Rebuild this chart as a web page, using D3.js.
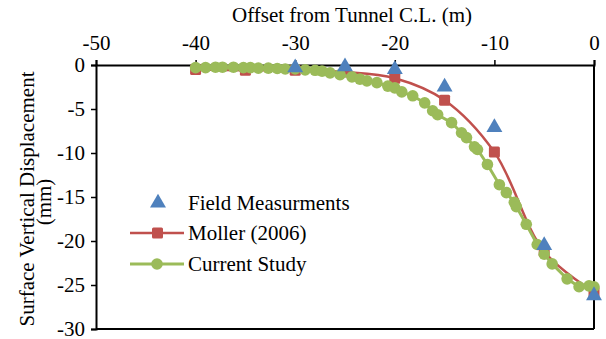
<!DOCTYPE html>
<html>
<head>
<meta charset="utf-8">
<script src="https://cdn.jsdelivr.net/npm/d3@7"></script>
<style>
  html, body { margin: 0; padding: 0; background: #fff; }
  svg { display: block; font-family: "Liberation Serif", "Times New Roman", serif; }
</style>
</head>
<body>
<div id="chart"></div>
<script>
// Field measurements
var fieldX = [-30, -25, -20, -15, -10, -5, 0];
var fieldY = [-0.3, -0.2, -0.5, -2.5, -7.1, -20.5, -26.2];

// Moller (2006)
var mollerX = [-40, -35, -30, -25, -20, -15, -10, -5, 0];
var mollerY = [-0.5, -0.6, -0.6, -0.8, -1.5, -4.0, -9.9, -21.2, -25.8];

// Current study
var currentX = [-40, -39, -38, -37.3, -36.2, -35.2, -34.5, -33.7, -32.7, -31.8, -31, -30, -29, -28, -27.3,
  -26.5, -25.5, -24.3, -23.5, -22.8, -21.8, -20.7, -20, -19.3, -18.2, -17, -16.2, -15.7, -14.3, -13.3,
  -12.8, -12, -11.7, -10.7, -9.5, -8.8, -8, -7.8, -6.8, -5.7, -5, -4.2, -2.7, -1.5, -0.5, 0];
var currentY = [-0.3, -0.3, -0.25, -0.25, -0.25, -0.3, -0.3, -0.35, -0.35, -0.4, -0.45, -0.45, -0.55, -0.6, -0.7,
  -0.9, -1.1, -1.35, -1.6, -1.8, -2.0, -2.4, -2.6, -3.05, -3.5, -4.3, -5.2, -5.65, -6.55, -7.7,
  -8.25, -9.3, -9.6, -11.3, -13.6, -14.5, -15.6, -16.1, -18.1, -20.4, -21.5, -22.6, -24.3, -25.2, -25.1, -25.2];

var xTicks = [-50, -40, -30, -20, -10, 0];
var yTicks = [0, -5, -10, -15, -20, -25, -30];

var W = 606, H = 339;
var FS = 21;
var blue = '#4F81BD', red = '#C0504D', green = '#9BBB59';

var svg = d3.select('#chart').append('svg')
  .attr('width', W).attr('height', H);

var x = d3.scaleLinear().domain([-50, 0]).range([96, 594]);
var y = d3.scaleLinear().domain([0, -30]).range([65, 329]);

function zip(xs, ys) { return xs.map(function (v, i) { return [v, ys[i]]; }); }
function fmt(d) { return String(d); } // plain hyphen like the original

// Plot frame (right and bottom)
svg.append('line').attr('x1', x(0)).attr('x2', x(0)).attr('y1', y(0)).attr('y2', y(-30))
  .attr('stroke', '#000').attr('stroke-width', 2);
svg.append('line').attr('x1', x(-50)).attr('x2', x(0)).attr('y1', y(-30)).attr('y2', y(-30))
  .attr('stroke', '#000').attr('stroke-width', 2);

// Top axis
var xAxis = svg.append('g').attr('transform', 'translate(0,' + y(0) + ')')
  .call(d3.axisTop(x).tickValues(xTicks).tickSize(5).tickPadding(10).tickFormat(fmt));
// Left axis
var yAxis = svg.append('g').attr('transform', 'translate(' + x(-50) + ',0)')
  .call(d3.axisLeft(y).tickValues(yTicks).tickSize(5).tickPadding(6).tickFormat(fmt));

[xAxis, yAxis].forEach(function (a) {
  a.select('.domain').attr('stroke', '#000').attr('stroke-width', 2);
  a.selectAll('.tick line').attr('stroke', '#000').attr('stroke-width', 1.5);
  a.selectAll('text').attr('font-family', '"Liberation Serif", serif')
    .attr('font-size', FS).attr('fill', '#000');
});
yAxis.selectAll('text').attr('dy', '0.32em');

// Axis titles
svg.append('text').attr('x', 352).attr('y', 22).attr('text-anchor', 'middle')
  .attr('font-size', FS).text('Offset from Tunnel C.L. (m)');
svg.append('rect').attr('x', 39).attr('y', 180).attr('width', 17).attr('height', 44).attr('fill', '#fff');
svg.append('text').attr('transform', 'translate(34,199) rotate(-90)').attr('text-anchor', 'middle')
  .attr('font-size', FS).text('Surface Vertical Displacement');
svg.append('text').attr('transform', 'translate(51,202) rotate(-90)').attr('text-anchor', 'middle')
  .attr('font-size', FS).text('(mm)');

// Moller (2006) smoothed line
var mollerPts = zip(mollerX, mollerY);
svg.append('path')
  .attr('d', d3.line().x(function (d) { return x(d[0]); }).y(function (d) { return y(d[1]); })
    .curve(d3.curveCatmullRom.alpha(0.5))(mollerPts))
  .attr('fill', 'none').attr('stroke', red).attr('stroke-width', 2.5);
svg.append('g').selectAll('rect').data(mollerPts).join('rect')
  .attr('x', function (d) { return x(d[0]) - 5.5; })
  .attr('y', function (d) { return y(d[1]) - 5.5; })
  .attr('width', 11).attr('height', 11).attr('rx', 1.5)
  .attr('fill', red);

// Current study
var curPts = zip(currentX, currentY);
svg.append('path')
  .attr('d', d3.line().x(function (d) { return x(d[0]); }).y(function (d) { return y(d[1]); })(curPts))
  .attr('fill', 'none').attr('stroke', green).attr('stroke-width', 3);
svg.append('g').selectAll('circle').data(curPts).join('circle')
  .attr('cx', function (d) { return x(d[0]); })
  .attr('cy', function (d) { return y(d[1]); })
  .attr('r', 5.8).attr('fill', green);

// Field measurements
var tri = d3.symbol().type(d3.symbolTriangle).size(110);
svg.append('g').selectAll('path').data(zip(fieldX, fieldY)).join('path')
  .attr('d', tri)
  .attr('transform', function (d) { return 'translate(' + x(d[0]) + ',' + y(d[1]) + ')'; })
  .attr('fill', blue);

// Legend
var leg = svg.append('g');
leg.append('path').attr('d', tri).attr('transform', 'translate(158,203)').attr('fill', blue);
leg.append('text').attr('x', 188).attr('y', 210).attr('font-size', FS).text('Field Measurments');

leg.append('line').attr('x1', 130).attr('x2', 184).attr('y1', 233).attr('y2', 233)
  .attr('stroke', red).attr('stroke-width', 2.5);
leg.append('rect').attr('x', 152).attr('y', 227.5).attr('width', 11).attr('height', 11)
  .attr('rx', 1.5).attr('fill', red);
leg.append('text').attr('x', 188).attr('y', 240).attr('font-size', FS).text('Moller (2006)');

leg.append('line').attr('x1', 130).attr('x2', 184).attr('y1', 264).attr('y2', 264)
  .attr('stroke', green).attr('stroke-width', 3);
leg.append('circle').attr('cx', 157).attr('cy', 264).attr('r', 5.8).attr('fill', green);
leg.append('text').attr('x', 188).attr('y', 271).attr('font-size', FS).text('Current Study');
</script>
</body>
</html>
